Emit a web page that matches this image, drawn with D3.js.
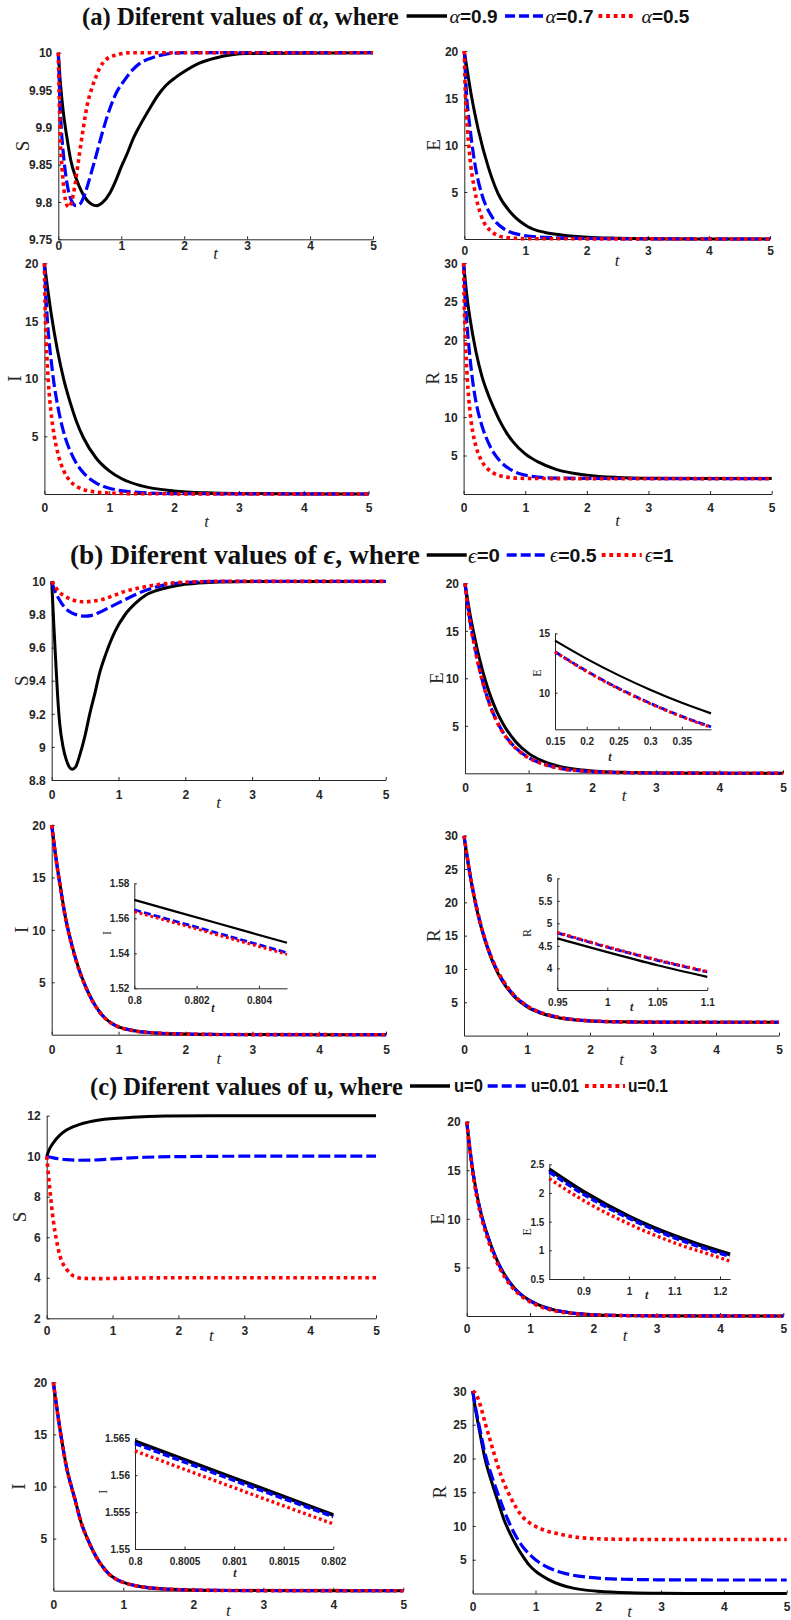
<!DOCTYPE html>
<html>
<head>
<meta charset="utf-8">
<script src="https://cdn.jsdelivr.net/npm/d3@7"></script>
<style>
  html, body { margin: 0; padding: 0; background: #fff; }
  svg { display: block; }
</style>
</head>
<body>
<svg id="fig" width="791" height="1620"></svg>
<script>
// ------------------------------------------------------------------
// Series values, stored as [t, value] pairs
// ------------------------------------------------------------------

// (a) fractional order alpha = 0.9, 0.7, 0.5
const S_a09 = [[0,10],[0.03,9.963],[0.08,9.92],[0.13,9.89],[0.2,9.855],[0.29,9.83],[0.37,9.814],[0.45,9.803],[0.53,9.797],[0.61,9.795],[0.7,9.799],[0.82,9.812],[0.92,9.83],[1.0,9.847],[1.1,9.866],[1.18,9.883],[1.3,9.903],[1.45,9.925],[1.6,9.945],[1.71,9.956],[1.85,9.966],[1.97,9.973],[2.24,9.986],[2.5,9.993],[3,9.999],[5,10]];
const S_a07 = [[0,10],[0.04,9.91],[0.08,9.865],[0.12,9.835],[0.16,9.815],[0.22,9.8],[0.28,9.795],[0.34,9.797],[0.4,9.806],[0.45,9.818],[0.52,9.838],[0.6,9.862],[0.68,9.887],[0.76,9.91],[0.84,9.93],[0.92,9.946],[1.05,9.963],[1.18,9.977],[1.3,9.986],[1.45,9.992],[1.71,9.998],[2,10],[5,10]];
const S_a05 = [[0,10],[0.015,9.94],[0.03,9.89],[0.06,9.845],[0.1,9.81],[0.13,9.797],[0.17,9.793],[0.21,9.8],[0.26,9.82],[0.32,9.855],[0.39,9.895],[0.46,9.93],[0.53,9.952],[0.6,9.968],[0.66,9.98],[0.75,9.99],[0.92,9.997],[1.18,10],[5,10]];

const E_a09 = [[0,20],[0.04,18.3],[0.12,15.1],[0.23,11.6],[0.39,7.7],[0.55,4.86],[0.77,2.73],[1.04,1.31],[1.32,0.7],[1.59,0.43],[2.02,0.18],[2.5,0.08],[3,0.03],[4,0.01],[5,0]];
const E_a07 = [[0,20],[0.04,15.1],[0.09,12],[0.17,8.1],[0.28,4.9],[0.45,2.4],[0.66,1.03],[0.93,0.43],[1.32,0.18],[2,0.06],[3,0.01],[5,0]];
const E_a05 = [[0,20],[0.01,16.9],[0.04,13],[0.09,8.8],[0.17,5.2],[0.28,2.4],[0.45,0.78],[0.66,0.18],[1.04,0.03],[5,0]];

const I_a09 = [[0,20],[0.05,17.8],[0.1,15.8],[0.2,12.5],[0.3,9.9],[0.4,7.9],[0.5,6.2],[0.6,4.9],[0.8,3.1],[1,2.0],[1.2,1.3],[1.5,0.7],[2,0.27],[2.5,0.1],[3,0.04],[4,0.01],[5,0]];
const I_a07 = [[0,20],[0.03,16.5],[0.06,14],[0.1,11.8],[0.15,9.5],[0.2,7.8],[0.3,5.3],[0.4,3.7],[0.5,2.6],[0.6,1.85],[0.8,0.95],[1,0.5],[1.5,0.12],[2,0.03],[5,0]];
const I_a05 = [[0,20],[0.01,16.5],[0.03,13],[0.06,9.8],[0.1,7.2],[0.15,5.1],[0.2,3.7],[0.3,2.0],[0.4,1.1],[0.5,0.65],[0.7,0.25],[1,0.08],[1.5,0.02],[5,0]];

const R_a09 = [[0,30],[0.05,26],[0.1,23],[0.2,18.5],[0.3,15.2],[0.4,12.9],[0.5,11],[0.6,9.3],[0.7,7.9],[0.8,6.8],[1,5.2],[1.2,4.2],[1.5,3.2],[2,2.45],[2.5,2.15],[3,2.05],[4,2.01],[5,2]];
const R_a07 = [[0,30],[0.03,25],[0.06,21.5],[0.1,18],[0.15,14.5],[0.2,12],[0.3,8.8],[0.4,6.7],[0.5,5.2],[0.6,4.2],[0.8,3.0],[1,2.45],[1.2,2.2],[1.5,2.07],[2,2.02],[5,2]];
const R_a05 = [[0,30],[0.01,25],[0.03,20],[0.06,15],[0.1,11],[0.15,8],[0.2,6.2],[0.3,4.2],[0.4,3.2],[0.5,2.65],[0.6,2.35],[0.8,2.1],[1,2.03],[1.5,2],[5,2]];

// (b) epsilon = 0, 0.5, 1
const S_b0  = [[0,10],[0.03,9.75],[0.06,9.52],[0.09,9.3],[0.12,9.14],[0.17,9.0],[0.22,8.92],[0.27,8.875],[0.31,8.865],[0.36,8.88],[0.42,8.95],[0.5,9.07],[0.57,9.2],[0.65,9.33],[0.72,9.45],[0.8,9.55],[0.95,9.7],[1.1,9.8],[1.26,9.87],[1.4,9.915],[1.57,9.945],[1.75,9.965],[1.95,9.98],[2.2,9.99],[2.5,9.997],[3,10],[5,10]];
const S_b05 = [[0,10],[0.05,9.94],[0.1,9.9],[0.2,9.84],[0.3,9.81],[0.4,9.795],[0.5,9.79],[0.6,9.795],[0.7,9.81],[0.85,9.84],[1,9.87],[1.2,9.91],[1.4,9.945],[1.6,9.97],[1.8,9.985],[2,9.993],[2.5,10],[5,10]];
const S_b1  = [[0,10],[0.05,9.97],[0.1,9.94],[0.2,9.91],[0.3,9.89],[0.4,9.88],[0.5,9.877],[0.6,9.88],[0.75,9.89],[0.9,9.91],[1.1,9.94],[1.3,9.96],[1.5,9.975],[1.8,9.99],[2.2,9.998],[2.5,10],[5,10]];

const E_b0  = [[0,20],[0.05,17.9],[0.1,16.0],[0.15,14.38],[0.2,12.85],[0.25,11.5],[0.3,10.25],[0.35,9.15],[0.4,8.15],[0.5,6.5],[0.6,5.2],[0.8,3.3],[1,2.1],[1.2,1.35],[1.5,0.7],[2,0.25],[2.5,0.1],[3,0.04],[4,0.01],[5,0]];
const E_b05 = [[0,20],[0.05,17.3],[0.1,15.2],[0.15,13.45],[0.2,11.8],[0.25,10.4],[0.3,9.1],[0.35,8.0],[0.4,7.05],[0.5,5.5],[0.6,4.3],[0.8,2.65],[1,1.65],[1.2,1.05],[1.5,0.52],[2,0.18],[2.5,0.07],[3,0.03],[4,0.01],[5,0]];
const E_b1  = [[0,20],[0.05,17.2],[0.1,15.1],[0.15,13.42],[0.2,11.75],[0.25,10.35],[0.3,9.05],[0.35,7.95],[0.4,7.0],[0.5,5.45],[0.6,4.25],[0.8,2.62],[1,1.63],[1.2,1.03],[1.5,0.51],[2,0.18],[2.5,0.07],[3,0.03],[4,0.01],[5,0]];
const Ezoom_b0  = [[0.15,14.38],[0.2,12.85],[0.25,11.48],[0.3,10.25],[0.35,9.15],[0.396,8.26]];
const Ezoom_b05 = [[0.15,13.45],[0.2,11.82],[0.25,10.38],[0.3,9.12],[0.35,8.01],[0.396,7.13]];
const Ezoom_b1  = [[0.15,13.42],[0.2,11.78],[0.25,10.34],[0.3,9.08],[0.35,7.97],[0.396,7.08]];

const I_b0  = [[0,20],[0.05,17.5],[0.1,15.3],[0.15,13.3],[0.2,11.4],[0.25,9.9],[0.3,8.6],[0.4,6.4],[0.5,4.7],[0.6,3.35],[0.7,2.32],[0.8,1.57],[0.9,1.08],[1,0.75],[1.2,0.42],[1.5,0.18],[2,0.06],[2.5,0.02],[3,0.01],[5,0]];
const I_b05 = [[0,20],[0.05,17.45],[0.1,15.25],[0.15,13.25],[0.2,11.35],[0.25,9.85],[0.3,8.56],[0.4,6.37],[0.5,4.68],[0.6,3.34],[0.7,2.31],[0.8,1.565],[0.9,1.07],[1,0.74],[1.2,0.41],[1.5,0.18],[2,0.06],[2.5,0.02],[3,0.01],[5,0]];
const I_b1  = [[0,20],[0.05,17.44],[0.1,15.24],[0.15,13.24],[0.2,11.34],[0.25,9.84],[0.3,8.55],[0.4,6.36],[0.5,4.67],[0.6,3.33],[0.7,2.3],[0.8,1.564],[0.9,1.07],[1,0.74],[1.2,0.41],[1.5,0.18],[2,0.06],[2.5,0.02],[3,0.01],[5,0]];
const Izoom_b0  = [[0.8,1.5705],[0.8025,1.558],[0.8049,1.546]];
const Izoom_b05 = [[0.8,1.5648],[0.8025,1.5524],[0.8049,1.5403]];
const Izoom_b1  = [[0.8,1.5638],[0.8025,1.5514],[0.8049,1.5394]];

const R_b0  = [[0,30],[0.1,23.85],[0.2,19.05],[0.3,15.3],[0.4,12.4],[0.5,10.1],[0.6,8.32],[0.7,6.93],[0.8,5.85],[0.9,5.0],[0.95,4.67],[1,4.34],[1.1,3.81],[1.2,3.43],[1.5,2.68],[2,2.2],[2.5,2.06],[3,2.02],[4,2],[5,2]];
const R_b05 = [[0,30],[0.1,23.95],[0.2,19.2],[0.3,15.5],[0.4,12.6],[0.5,10.3],[0.6,8.52],[0.7,7.12],[0.8,6.0],[0.9,5.14],[0.95,4.79],[1,4.46],[1.1,3.92],[1.2,3.52],[1.5,2.73],[2,2.22],[2.5,2.06],[3,2.02],[4,2],[5,2]];
const R_b1  = [[0,30],[0.1,23.96],[0.2,19.22],[0.3,15.52],[0.4,12.62],[0.5,10.32],[0.6,8.54],[0.7,7.14],[0.8,6.02],[0.9,5.15],[0.95,4.8],[1,4.47],[1.1,3.93],[1.2,3.53],[1.5,2.74],[2,2.22],[2.5,2.06],[3,2.02],[4,2],[5,2]];
const Rzoom_b0  = [[0.95,4.667],[1,4.36],[1.05,4.07],[1.1,3.81]];
const Rzoom_b05 = [[0.95,4.79],[1,4.47],[1.05,4.18],[1.1,3.92]];
const Rzoom_b1  = [[0.95,4.8],[1,4.48],[1.05,4.19],[1.1,3.93]];

// (c) u = 0, 0.01, 0.1
const S_c0   = [[0,10],[0.05,10.4],[0.1,10.66],[0.2,11.04],[0.3,11.29],[0.5,11.57],[0.8,11.79],[1.3,11.92],[1.8,11.98],[2.5,12],[5,12]];
const S_c001 = [[0,10],[0.1,9.92],[0.3,9.83],[0.5,9.8],[0.7,9.81],[1,9.87],[1.5,9.95],[2,9.98],[3,10],[5,10]];
const S_c01  = [[0,10],[0.02,9.3],[0.05,8.31],[0.1,6.83],[0.15,5.83],[0.2,5.09],[0.3,4.43],[0.4,4.1],[0.56,3.97],[0.8,3.96],[1.2,3.98],[2,4],[5,4]];

const E_c0   = [[0,20],[0.05,17.2],[0.1,14.8],[0.2,11.3],[0.25,10.0],[0.3,8.9],[0.4,7.0],[0.5,5.45],[0.6,4.25],[0.7,3.3],[0.8,2.56],[0.825,2.41],[0.9,2.02],[1,1.59],[1.1,1.25],[1.2,0.98],[1.4,0.6],[1.6,0.37],[2,0.14],[2.5,0.05],[3,0.02],[5,0]];
const E_c001 = [[0,20],[0.05,17.2],[0.1,14.75],[0.2,11.25],[0.25,9.95],[0.3,8.85],[0.4,6.95],[0.5,5.4],[0.6,4.2],[0.7,3.26],[0.8,2.52],[0.825,2.37],[0.9,1.98],[1,1.56],[1.1,1.22],[1.2,0.95],[1.4,0.58],[1.6,0.36],[2,0.13],[2.5,0.05],[3,0.02],[5,0]];
const E_c01  = [[0,20],[0.05,17.1],[0.1,14.6],[0.2,11.0],[0.25,9.7],[0.3,8.6],[0.4,6.7],[0.5,5.2],[0.6,4.0],[0.7,3.1],[0.8,2.39],[0.825,2.25],[0.9,1.87],[1,1.46],[1.1,1.13],[1.2,0.87],[1.4,0.52],[1.6,0.31],[2,0.11],[2.5,0.04],[3,0.01],[5,0]];
const Ezoom_c0   = [[0.825,2.41],[0.9,2.02],[1,1.59],[1.1,1.25],[1.2,0.98],[1.222,0.93]];
const Ezoom_c001 = [[0.825,2.37],[0.9,1.98],[1,1.56],[1.1,1.22],[1.2,0.95],[1.222,0.9]];
const Ezoom_c01  = [[0.825,2.25],[0.9,1.87],[1,1.46],[1.1,1.13],[1.2,0.87],[1.222,0.81]];

const I_c0   = [[0,20],[0.1,15.3],[0.2,11.5],[0.25,10.2],[0.3,9.0],[0.4,6.5],[0.5,4.8],[0.6,3.4],[0.7,2.35],[0.8,1.5646],[0.9,1.1],[1,0.8],[1.2,0.45],[1.5,0.2],[2,0.06],[2.5,0.02],[3,0.01],[5,0]];
const I_c001 = [[0,20],[0.1,15.3],[0.2,11.5],[0.25,10.2],[0.3,9.0],[0.4,6.5],[0.5,4.8],[0.6,3.4],[0.7,2.35],[0.8,1.5643],[0.9,1.1],[1,0.8],[1.2,0.45],[1.5,0.2],[2,0.06],[2.5,0.02],[3,0.01],[5,0]];
const I_c01  = [[0,20],[0.1,15.28],[0.2,11.48],[0.25,10.18],[0.3,8.98],[0.4,6.48],[0.5,4.78],[0.6,3.39],[0.7,2.34],[0.8,1.5633],[0.9,1.09],[1,0.79],[1.2,0.44],[1.5,0.2],[2,0.06],[2.5,0.02],[3,0.01],[5,0]];
const Izoom_c0   = [[0.8,1.5646],[0.801,1.5596],[0.802,1.5546]];
const Izoom_c001 = [[0.8,1.5643],[0.801,1.5593],[0.802,1.5544]];
const Izoom_c01  = [[0.8,1.5633],[0.801,1.5583],[0.802,1.5534]];

const R_c0   = [[0,30],[0.05,27],[0.1,24.5],[0.2,19.8],[0.3,16.6],[0.4,13.7],[0.5,10.9],[0.6,8.8],[0.7,7.0],[0.8,5.5],[0.9,4.2],[1,3.3],[1.2,2.1],[1.4,1.3],[1.6,0.8],[1.8,0.5],[2,0.32],[2.5,0.1],[3,0.03],[4,0.005],[5,0]];
const R_c001 = [[0,30],[0.05,27.3],[0.1,25.0],[0.2,20.6],[0.3,17.5],[0.4,14.8],[0.5,12.3],[0.6,10.1],[0.7,8.3],[0.8,6.9],[0.9,5.85],[1,5.0],[1.2,3.86],[1.4,3.15],[1.6,2.71],[1.8,2.44],[2,2.27],[2.5,2.09],[3,2.03],[4,2.0],[5,2.0]];
const R_c01  = [[0,30],[0.05,29.6],[0.1,28.5],[0.2,25.2],[0.3,22.0],[0.4,18.9],[0.5,16.3],[0.6,14.3],[0.7,12.6],[0.8,11.3],[0.9,10.5],[1,9.95],[1.2,9.2],[1.4,8.75],[1.6,8.4],[1.8,8.2],[2,8.1],[2.5,8.02],[3,8],[5,8]];

// ------------------------------------------------------------------
// Tick values
// ------------------------------------------------------------------
const ticksT      = [0, 1, 2, 3, 4, 5];
const ticksS_a    = [9.75, 9.8, 9.85, 9.9, 9.95, 10];
const ticksS_b    = [8.8, 9, 9.2, 9.4, 9.6, 9.8, 10];
const ticksS_c    = [2, 4, 6, 8, 10, 12];
const ticks20     = [5, 10, 15, 20];
const ticks30     = [5, 10, 15, 20, 25, 30];
const ticksEzb_t  = [0.15, 0.2, 0.25, 0.3, 0.35];
const ticksEzb_v  = [10, 15];
const ticksIzb_t  = [0.8, 0.802, 0.804];
const ticksIzb_v  = [1.52, 1.54, 1.56, 1.58];
const ticksRzb_t  = [0.95, 1, 1.05, 1.1];
const ticksRzb_v  = [4, 4.5, 5, 5.5, 6];
const ticksEzc_t  = [0.9, 1, 1.1, 1.2];
const ticksEzc_v  = [0.5, 1, 1.5, 2, 2.5];
const ticksIzc_t  = [0.8, 0.8005, 0.801, 0.8015, 0.802];
const ticksIzc_v  = [1.55, 1.555, 1.56, 1.565];

// Section headings and legend entries
const headings = [
  [["(a) Diferent values of ", false], ["α", true], [", where", false]],
  [["(b) Diferent values of ", false], ["ϵ", true], [", where", false]],
  [["(c) Diferent values of u, where", false]]
];
const legendSymbols = ["α", "ϵ", ""];
const legendValues = [
  ["=0.9", "=0.7", "=0.5"],
  ["=0", "=0.5", "=1"],
  ["u=0", "u=0.01", "u=0.1"]
];

// ------------------------------------------------------------------
// Drawing
// ------------------------------------------------------------------
const svg = d3.select("#fig");
svg.append("rect").attr("width", 791).attr("height", 1620).attr("fill", "#fff");

const SANS = "'Liberation Sans', Arial, Helvetica, sans-serif";
const SERIF = "'Liberation Serif', 'Times New Roman', serif";
const INK = "#262626";

const lineColors = ["#000000", "#0000ff", "#ff0000"];

const fmt = d => String(+d.toFixed(6));

// layout of each axes box: [left, right, top, bottom]
const panels = [
  { box: [58.3, 373, 52.7, 239.3],  y: [9.75, 10], yt: ticksS_a, lab: "S", s: [S_a09, S_a07, S_a05], xl: 6, tl: 14, yl: 36 },
  { box: [464.3, 770, 51, 239],     y: [0, 20],    yt: ticks20,  lab: "E", s: [E_a09, E_a07, E_a05], xl: 12, tl: 21, yl: 31 },
  { box: [44.4, 368.6, 263.3, 494], y: [0, 20],    yt: ticks20,  lab: "I", s: [I_a09, I_a07, I_a05], xl: 14, tl: 27, yl: 30 },
  { box: [463.6, 771.7, 263, 494],  y: [0, 30],    yt: ticks30,  lab: "R", s: [R_a09, R_a07, R_a05], xl: 14, tl: 26, yl: 31 },

  { box: [51.7, 385.7, 581.4, 780], y: [8.8, 10],  yt: ticksS_b, lab: "S", s: [S_b0, S_b05, S_b1], xl: 15, tl: 22, yl: 30 },
  { box: [465, 783, 583.3, 773.3],  y: [0, 20],    yt: ticks20,  lab: "E", s: [E_b0, E_b05, E_b1], xl: 15, tl: 22, yl: 28 },
  { box: [51.7, 386, 825, 1034.7],  y: [0, 20],    yt: ticks20,  lab: "I", s: [I_b0, I_b05, I_b1], xl: 15, tl: 24, yl: 30 },
  { box: [464, 779, 835.7, 1035.6], y: [0, 30],    yt: ticks30,  lab: "R", s: [R_b0, R_b05, R_b1], xl: 14, tl: 24, yl: 30 },

  { box: [46.7, 376, 1115.7, 1318.3], y: [2, 12],  yt: ticksS_c, lab: "S", s: [S_c0, S_c001, S_c01], xl: 13, tl: 17, yl: 27 },
  { box: [466.7, 783.3, 1121.7, 1316], y: [0, 20], yt: ticks20,  lab: "E", s: [E_c0, E_c001, E_c01], xl: 13, tl: 19, yl: 29 },
  { box: [53.3, 403.3, 1382.3, 1590.7], y: [0, 20], yt: ticks20, lab: "I", s: [I_c0, I_c001, I_c01], xl: 14, tl: 20, yl: 35 },
  { box: [472.7, 786.7, 1391, 1593.5], y: [0, 30], yt: ticks30,  lab: "R", s: [R_c0, R_c001, R_c01], xl: 13, tl: 18, yl: 33 }
];

const insets = [
  { box: [555, 711, 633.3, 729.3],   x: [0.15, 0.396], y: [6.92, 15],    xt: ticksEzb_t, yt: ticksEzb_v, lab: "E", s: [Ezoom_b0, Ezoom_b05, Ezoom_b1], tpos: [610, 756.7],  lpos: [536.7, 673],   w: [2.2, 2.8, 3] },
  { box: [134.3, 287, 883.3, 988.3], x: [0.8, 0.8049], y: [1.52, 1.58],  xt: ticksIzb_t, yt: ticksIzb_v, lab: "I", s: [Izoom_b0, Izoom_b05, Izoom_b1], tpos: [213, 1008],    lpos: [107.3, 933],   w: [2.2, 2.8, 3] },
  { box: [557.3, 707.3, 878.3, 990], x: [0.95, 1.1],   y: [3.52, 6],     xt: ticksRzb_t, yt: ticksRzb_v, lab: "R", s: [Rzoom_b0, Rzoom_b05, Rzoom_b1], tpos: [631.7, 1006.7], lpos: [526.7, 933],  w: [2.2, 2.8, 3] },
  { box: [549.3, 730, 1164.3, 1279], x: [0.825, 1.222], y: [0.5, 2.5],   xt: ticksEzc_t, yt: ticksEzc_v, lab: "E", s: [Ezoom_c0, Ezoom_c001, Ezoom_c01], tpos: [646.7, 1295], lpos: [526.7, 1231.7], w: [4, 3.6, 3.4] },
  { box: [135, 333.3, 1438.3, 1549], x: [0.8, 0.802],  y: [1.55, 1.565], xt: ticksIzc_t, yt: ticksIzc_v, lab: "I", s: [Izoom_c0, Izoom_c001, Izoom_c01], tpos: [235, 1572.7], lpos: [103.3, 1491.7], w: [3.6, 3.6, 3.4] }
];

function styleAxis(sel, fontSize) {
  sel.select(".domain").attr("stroke", INK).attr("stroke-width", 1);
  sel.selectAll(".tick line").attr("stroke", INK).attr("stroke-width", 1);
  sel.selectAll(".tick text")
    .attr("fill", INK)
    .style("font-family", SANS)
    .style("font-weight", "bold")
    .style("font-size", fontSize + "px");
}

function drawSeries(g, x, y, series, widths, dashes) {
  const line = d3.line().x(d => x(d[0])).y(d => y(d[1])).curve(d3.curveMonotoneX);
  series.forEach((s, i) => {
    g.append("path")
      .datum(s)
      .attr("d", line)
      .attr("fill", "none")
      .attr("stroke", lineColors[i])
      .attr("stroke-width", widths[i])
      .attr("stroke-linejoin", "round")
      .attr("stroke-linecap", "butt")
      .attr("stroke-dasharray", dashes[i]);
  });
}

// main axes
panels.forEach(p => {
  const [L, R, T, B] = p.box;
  const g = svg.append("g");
  const x = d3.scaleLinear().domain([0, 5]).range([L, R]);
  const y = d3.scaleLinear().domain(p.y).range([B, T]);

  const gx = g.append("g").attr("transform", `translate(0,${B})`)
    .call(d3.axisBottom(x).tickValues(ticksT).tickFormat(fmt).tickSizeInner(-3).tickSizeOuter(0));
  styleAxis(gx, 12);
  gx.selectAll(".tick text").attr("y", p.xl).attr("dy", "0.35em");

  const gy = g.append("g").attr("transform", `translate(${L},0)`)
    .call(d3.axisLeft(y).tickValues(p.yt).tickFormat(fmt).tickSizeInner(-3).tickSizeOuter(0).tickPadding(6));
  styleAxis(gy, 12);
  gy.selectAll(".tick text").attr("dy", "0.35em");

  // axis titles
  g.append("text")
    .attr("x", (L + R) / 2).attr("y", B + p.tl)
    .attr("text-anchor", "middle").attr("dominant-baseline", "central")
    .style("font-family", SERIF).style("font-style", "italic").style("font-size", "17px")
    .attr("fill", INK).text("t");
  const ly = (T + B) / 2, lx = L - p.yl;
  g.append("text")
    .attr("x", lx).attr("y", ly)
    .attr("transform", `rotate(-90,${lx},${ly})`)
    .attr("text-anchor", "middle").attr("dominant-baseline", "central")
    .style("font-family", SERIF).style("font-size", "19px")
    .attr("fill", INK).text(p.lab);

  drawSeries(g, x, y, p.s, [3, 3.2, 3.6], [null, "12 4", "3.6 3.6"]);
});

// zoomed insets
insets.forEach(p => {
  const [L, R, T, B] = p.box;
  const g = svg.append("g");
  const x = d3.scaleLinear().domain(p.x).range([L, R]);
  const y = d3.scaleLinear().domain(p.y).range([B, T]);

  g.append("rect").attr("x", L).attr("y", T).attr("width", R - L).attr("height", B - T).attr("fill", "#fff");

  const gx = g.append("g").attr("transform", `translate(0,${B})`)
    .call(d3.axisBottom(x).tickValues(p.xt).tickFormat(fmt).tickSizeInner(-2.5).tickSizeOuter(0));
  styleAxis(gx, 10);
  gx.selectAll(".tick text").attr("y", 12).attr("dy", "0.35em");

  const gy = g.append("g").attr("transform", `translate(${L},0)`)
    .call(d3.axisLeft(y).tickValues(p.yt).tickFormat(fmt).tickSizeInner(-2.5).tickSizeOuter(0).tickPadding(5));
  styleAxis(gy, 10);
  gy.selectAll(".tick text").attr("dy", "0.35em");

  g.append("text")
    .attr("x", p.tpos[0]).attr("y", p.tpos[1])
    .attr("text-anchor", "middle").attr("dominant-baseline", "central")
    .style("font-family", SERIF).style("font-style", "italic").style("font-weight", "bold").style("font-size", "12px")
    .attr("fill", INK).text("t");
  g.append("text")
    .attr("x", p.lpos[0]).attr("y", p.lpos[1])
    .attr("transform", `rotate(-90,${p.lpos[0]},${p.lpos[1]})`)
    .attr("text-anchor", "middle").attr("dominant-baseline", "central")
    .style("font-family", SERIF).style("font-size", "12px")
    .attr("fill", INK).text(p.lab);

  drawSeries(g, x, y, p.s, p.w, [null, "7 3", "2.8 2.8"]);
});

// section headings with inline legends
const headingLayout = [
  { x0: 82, x1: 399, y: 16,
    items: [[406.6, 447, 449.5, 48], [505, 543, 545.5, 48], [598.5, 634, 641.4, 48]], fs: 18 },
  { x0: 70, x1: 420, y: 555,
    items: [[426.7, 466.7, 468, 32], [506.7, 546.7, 550, 46.7], [601.7, 641.7, 645, 28.3]], fs: 19 },
  { x0: 90, x1: 403, y: 1086,
    items: [[410, 450, 454, 29], [487.7, 528, 531, 48], [585, 625, 628, 40]], fs: 18 }
];

headings.forEach((parts, k) => {
  const lay = headingLayout[k];
  const t = svg.append("text")
    .attr("x", lay.x0).attr("y", lay.y)
    .attr("dominant-baseline", "central")
    .style("font-family", SERIF).style("font-weight", "bold").style("font-size", "20px")
    .attr("fill", "#111");
  parts.forEach(([txt, ital]) => {
    t.append("tspan").style("font-style", ital ? "italic" : "normal").text(txt);
  });
  const w = t.node().getComputedTextLength();
  t.style("font-size", (20 * (lay.x1 - lay.x0) / w) + "px");

  lay.items.forEach((it, i) => {
    const [a, b, tx, tw] = it;
    svg.append("line")
      .attr("x1", a).attr("x2", b).attr("y1", lay.y).attr("y2", lay.y)
      .attr("stroke", lineColors[i])
      .attr("stroke-width", i === 2 ? 3.8 : 3.4)
      .attr("stroke-dasharray", i === 0 ? null : (i === 1 ? "10 4" : "3.8 3.8"));
    const lg = svg.append("g");
    const lt = lg.append("text")
      .attr("x", 0).attr("y", 0).attr("dominant-baseline", "central")
      .attr("fill", "#111");
    if (legendSymbols[k]) {
      lt.append("tspan").style("font-family", SERIF).style("font-style", "italic")
        .style("font-size", (lay.fs + 1) + "px").text(legendSymbols[k]);
    }
    lt.append("tspan").style("font-family", SANS).style("font-weight", "bold")
      .style("font-size", lay.fs + "px").text(legendValues[k][i]);
    const lw = lt.node().getComputedTextLength();
    lg.attr("transform", `translate(${tx},${lay.y}) scale(${tw / lw},1)`);
  });
});
</script>
</body>
</html>
